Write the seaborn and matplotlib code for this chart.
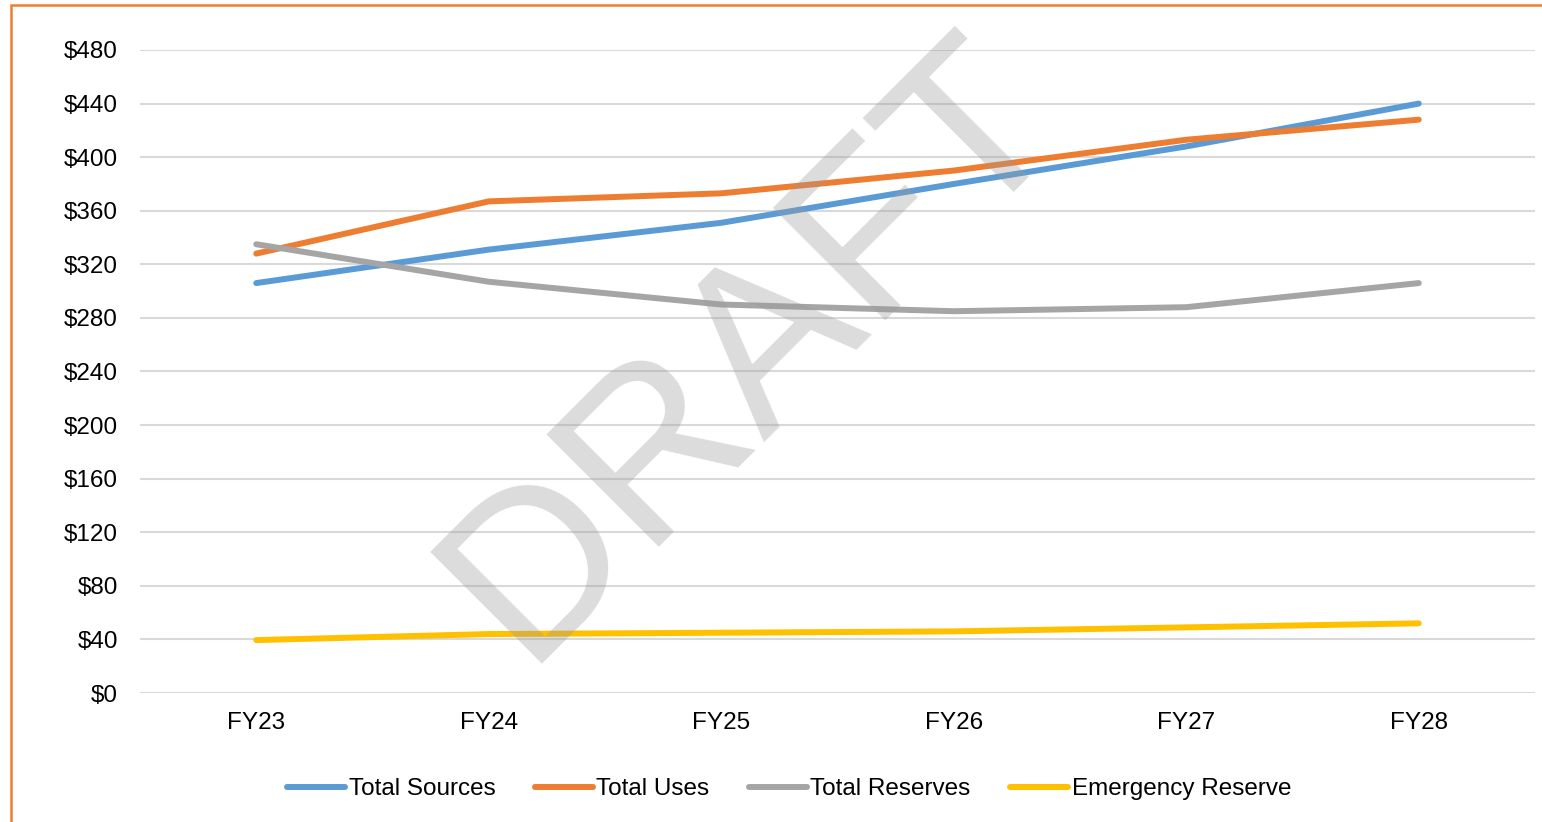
import matplotlib
matplotlib.use("Agg")
import matplotlib.pyplot as plt
import seaborn as sns
import pandas as pd
from matplotlib.lines import Line2D
from matplotlib.patches import Rectangle

years = ["FY23", "FY24", "FY25", "FY26", "FY27", "FY28"]
total_sources = [306, 331, 351, 380, 408, 440]
total_uses = [328, 367, 373, 390, 413, 428]
total_reserves = [335, 307, 290, 285, 288, 306]
emergency_reserve = [39.5, 44, 45, 46, 49, 52]
series_names = ["Total Sources", "Total Uses", "Total Reserves", "Emergency Reserve"]
colors = ["#5B9BD5", "#ED7D31", "#A5A5A5", "#FFC000"]
yticks = list(range(0, 481, 40))

sns.set_theme(style="white")
plt.rcParams["font.family"] = ["Liberation Sans", "DejaVu Sans"]

rows = []
for name, vals in zip(series_names, [total_sources, total_uses, total_reserves, emergency_reserve]):
    for i, (yr, v) in enumerate(zip(years, vals)):
        rows.append({"year": yr, "idx": i, "value": v, "series": name})
df = pd.DataFrame(rows)

fig = plt.figure(figsize=(15.42, 8.22), dpi=100)
ax = fig.add_axes([140/1542, 1-693/822, (1535-140)/1542, (693-50)/822])

sns.lineplot(data=df, x="idx", y="value", hue="series", hue_order=series_names,
             palette=colors, linewidth=4.3, ax=ax, legend=False, sort=False,
             solid_capstyle="round", zorder=3)

ax.set_xlim(-0.5, 5.5)
ax.set_ylim(0, 480)
ax.set_xticks(range(len(years)))
ax.set_xticklabels(years)
ax.set_yticks(yticks)
ax.set_yticklabels([f"${t}" for t in yticks])
ax.tick_params(axis="both", length=0, labelsize=17.5, colors="#000000")
ax.tick_params(axis="y", pad=16)
ax.tick_params(axis="x", pad=14)
ax.set_xlabel("")
ax.set_ylabel("")
ax.yaxis.grid(True, color="#D9D9D9", linewidth=1.5)
ax.set_axisbelow(True)
for s in ax.spines.values():
    s.set_visible(False)

# Watermark
fig.text(752/1542, 1-350/822, "DRAFT", fontsize=166, color="#9a9a9a", alpha=0.35,
         rotation=45, ha="center", va="center", zorder=10)

handles = [Line2D([], [], color=c, linewidth=4.3, solid_capstyle="round") for c in colors]
fig.legend(handles, series_names, loc="center", bbox_to_anchor=(789/1542, 1-789/822),
           ncol=4, frameon=False, fontsize=17.5, handlelength=2.4, handletextpad=0.15,
           columnspacing=1.6, labelcolor="#000000")

# Orange border (top and left edges visible)
fig.patches.append(Rectangle((11/1542, -0.05), 1.1, 1-5/822+0.05, transform=fig.transFigure,
                             fill=False, edgecolor="#ED7D31", linewidth=1.8, zorder=0))

fig.savefig("out.png", dpi=100)
